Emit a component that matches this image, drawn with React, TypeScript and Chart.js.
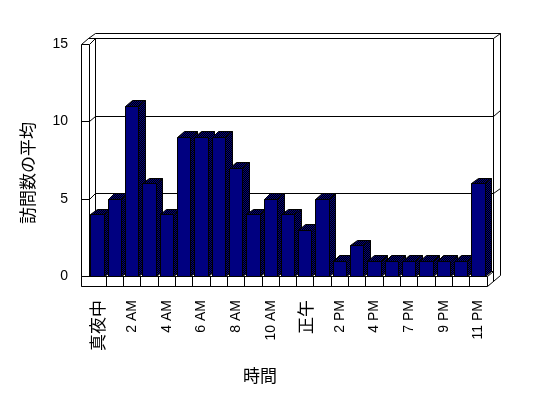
import React, { useEffect, useRef } from 'react';
import { Chart, registerables } from 'chart.js';

Chart.register(...registerables);

// ---- data ----
const hourLabels = ['真夜中', '1 AM', '2 AM', '3 AM', '4 AM', '5 AM', '6 AM', '7 AM', '8 AM', '9 AM', '10 AM', '11 AM',
  '正午', '1 PM', '2 PM', '3 PM', '4 PM', '6 PM', '7 PM', '8 PM', '9 PM', '10 PM', '11 PM'];
const avgVisits = [4, 5, 11, 6, 4, 9, 9, 9, 7, 4, 5, 4, 3, 5, 1, 2, 1, 1, 1, 1, 1, 1, 6];
const yTickValues = [0, 5, 10, 15];
const yAxisTitle = '訪問数の平均';
const xAxisTitle = '時間';

// ---- style / geometry ----
const W = 548;
const H = 398;
const DX = 6.7;
const DY = -5.5;
const WALL = 7.3;
const FLOOR = 10;
const NAVY = '#000080';
const LATIN = "'Liberation Sans', Arial, sans-serif";
const CJK = "'Noto Sans CJK JP', 'Noto Sans CJK SC', sans-serif";

const px = (v: number) => Math.floor(v) + 0.5;

function path(ctx: CanvasRenderingContext2D, pts: number[][], close: boolean) {
  ctx.beginPath();
  pts.forEach(([x, y], i) => (i ? ctx.lineTo(px(x), px(y)) : ctx.moveTo(px(x), px(y))));
  if (close) ctx.closePath();
}
function line(ctx: CanvasRenderingContext2D, pts: number[][]) {
  path(ctx, pts, false);
  ctx.stroke();
}
function poly(ctx: CanvasRenderingContext2D, pts: number[][], fill?: string | CanvasPattern | null) {
  path(ctx, pts, true);
  if (fill) {
    ctx.fillStyle = fill;
    ctx.fill();
  }
  ctx.stroke();
}

function makePattern(ctx: CanvasRenderingContext2D) {
  const c = document.createElement('canvas');
  c.width = 2;
  c.height = 2;
  const g = c.getContext('2d')!;
  g.fillStyle = '#000';
  g.fillRect(0, 0, 2, 2);
  g.fillStyle = NAVY;
  g.fillRect(0, 0, 1, 1);
  g.fillRect(1, 1, 1, 1);
  return ctx.createPattern(c, 'repeat');
}

const box3d = {
  id: 'box3d',
  beforeDatasetsDraw(chart: any) {
    const { ctx, chartArea } = chart;
    const { left: L, right: R, top: T, bottom: B } = chartArea;
    const ys = chart.scales.y;
    const xs = chart.scales.x;
    const LW = L - WALL;
    ctx.save();
    ctx.strokeStyle = '#000';
    ctx.lineWidth = 1;

    // left wall
    line(ctx, [[LW, B + FLOOR], [LW, T]]);
    line(ctx, [[L, T], [L, B]]);
    poly(ctx, [[LW, T], [L, T], [L + DX, T + DY], [LW + DX, T + DY]], '#fff');
    // back wall top
    poly(ctx, [[LW + DX, T + DY], [R + DX, T + DY], [R + 2 * DX, T + 2 * DY], [LW + 2 * DX, T + 2 * DY]], '#fff');
    line(ctx, [[L + DX, T + DY], [L + DX, B + DY]]);
    line(ctx, [[R + DX, T + DY], [R + DX, B + FLOOR + DY]]);
    line(ctx, [[R + 2 * DX, T + 2 * DY], [R + 2 * DX, B + FLOOR + 2 * DY]]);
    line(ctx, [[R, B + FLOOR], [R + 2 * DX, B + FLOOR + 2 * DY]]);
    line(ctx, [[R, B], [R + DX, B + DY]]);
    line(ctx, [[L + DX, B + DY], [R + DX, B + DY]]);
    line(ctx, [[L, B], [L + DX, B + DY]]);

    // gridlines
    yTickValues.forEach((v) => {
      if (v === 0 || v === 15) return;
      const yf = ys.getPixelForValue(v);
      line(ctx, [[LW, yf], [L, yf], [L + DX, yf + DY], [R + DX, yf + DY], [R + 2 * DX, yf + 2 * DY]]);
    });

    // floor front
    poly(ctx, [[LW, B], [R, B], [R, B + FLOOR], [LW, B + FLOOR]], '#fff');
    const n = hourLabels.length;
    for (let k = 1; k < n; k++) {
      const xb = (xs.getPixelForTick(k - 1) + xs.getPixelForTick(k)) / 2;
      line(ctx, [[xb, B], [xb, B + FLOOR]]);
    }

    // bar tops / sides
    const pat = makePattern(ctx);
    const meta = chart.getDatasetMeta(0);
    meta.data.forEach((bar: any) => {
      const { x, y, base, width } = bar.getProps(['x', 'y', 'base', 'width'], true);
      const l = x - width / 2;
      const r = x + width / 2;
      poly(ctx, [[l, y], [r, y], [r + DX, y + DY], [l + DX, y + DY]], pat);
      poly(ctx, [[r, y], [r + DX, y + DY], [r + DX, base + DY], [r, base]], pat);
    });
    ctx.restore();
  },
  afterDatasetsDraw(chart: any) {
    const { ctx } = chart;
    ctx.save();
    ctx.strokeStyle = '#000';
    ctx.lineWidth = 1;
    const meta = chart.getDatasetMeta(0);
    meta.data.forEach((bar: any) => {
      const { x, y, base, width } = bar.getProps(['x', 'y', 'base', 'width'], true);
      const l = x - width / 2;
      const r = x + width / 2;
      poly(ctx, [[l, y], [r, y], [r, base], [l, base]]);
    });
    ctx.restore();
  },
  afterDraw(chart: any) {
    const { ctx } = chart;
    ctx.save();
    ctx.fillStyle = '#000';
    ctx.font = `17px ${CJK}`;
    ctx.textAlign = 'center';
    ctx.textBaseline = 'middle';
    ctx.fillText(xAxisTitle, 260, 376);
    ctx.translate(28, 173);
    ctx.rotate(-Math.PI / 2);
    ctx.fillText(yAxisTitle, 0, 0);
    ctx.restore();
  },
};

export default function App() {
  const ref = useRef<HTMLCanvasElement | null>(null);
  useEffect(() => {
    if (!ref.current) return;
    const chart = new Chart(ref.current, {
      type: 'bar',
      data: {
        labels: hourLabels,
        datasets: [
          {
            data: avgVisits,
            backgroundColor: NAVY,
            borderWidth: 0,
            barPercentage: 0.77,
            categoryPercentage: 1,
          },
        ],
      },
      options: {
        animation: false,
        responsive: false,
        devicePixelRatio: 1,
        layout: { padding: { left: 0, top: 44, right: W - 487, bottom: 0 } },
        plugins: { legend: { display: false }, tooltip: { enabled: false } },
        scales: {
          x: {
            grid: { display: false, drawTicks: false },
            border: { display: false },
            ticks: {
              autoSkip: false,
              minRotation: 90,
              maxRotation: 90,
              padding: 23.5,
              color: '#000',
              callback: function (this: any, value: any, index: number) {
                return index % 2 === 0 ? hourLabels[index] : '';
              },
              font: (c: any) => {
                const lab = c && c.tick ? String(c.tick.label) : '';
                return /[^\x00-\x7f]/.test(lab) ? { family: CJK, size: 17 } : { family: LATIN, size: 14 };
              },
            },
            afterFit: (s: any) => {
              s.height = H - 276.5;
              s.paddingLeft = 0;
              s.paddingRight = 0;
            },
          },
          y: {
            min: 0,
            max: 15,
            grid: { display: false, drawTicks: false },
            border: { display: false },
            ticks: { padding: 21, color: '#000', font: { family: LATIN, size: 14 } },
            afterBuildTicks: (s: any) => {
              s.ticks = yTickValues.map((v) => ({ value: v }));
            },
            afterFit: (s: any) => {
              s.width = 89;
              s.paddingTop = 0;
              s.paddingBottom = 0;
            },
          },
        },
      },
      plugins: [box3d],
    });
    return () => chart.destroy();
  }, []);
  return (
    <div style={{ position: 'fixed', left: 0, top: 0, width: W, height: H, background: '#fff' }}>
      <canvas ref={ref} width={W} height={H} style={{ display: 'block' }} />
    </div>
  );
}
